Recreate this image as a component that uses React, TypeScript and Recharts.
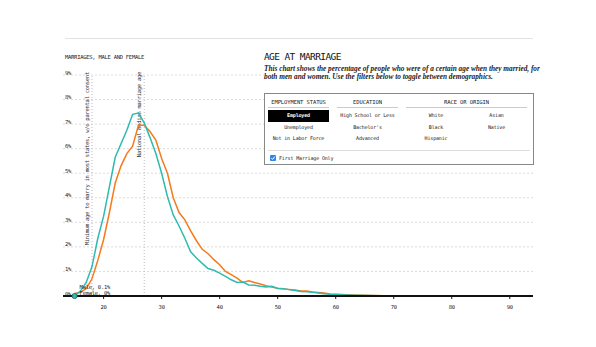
import React from 'react';
import {
    LineChart,
    Line,
    XAxis,
    YAxis,
    CartesianGrid,
    ReferenceLine,
} from 'recharts';

// ages and share of marriages (%) at each age
const AGES = [
    15, 16, 17, 18, 19, 20, 21, 22, 23, 24, 25, 26, 27, 28, 29, 30, 31, 32, 33, 34,
    35, 36, 37, 38, 39, 40, 41, 42, 43, 44, 45, 46, 47, 48, 49, 50, 51, 52, 53, 54,
    55, 56, 57, 58, 59, 60, 61, 62, 63, 64, 65, 66, 67, 68, 69, 70, 72, 75, 80,
];
const FEMALE = [
    0, 0.2, 0.55, 1.2, 2.35, 3.25, 4.45, 5.65, 6.2, 6.75, 7.4, 7.45, 7.05, 6.45, 5.8, 5.0, 4.05, 3.3, 2.85, 2.35,
    1.8, 1.55, 1.33, 1.12, 1.05, 0.93, 0.8, 0.66, 0.55, 0.57, 0.45, 0.44, 0.4, 0.37, 0.4, 0.31, 0.3, 0.26, 0.22, 0.18,
    0.17, 0.15, 0.12, 0.09, 0.07, 0.06, 0.05, 0.04, 0.03, 0.03, 0.02, 0.02, 0.01, 0.01, 0.01, 0.01, 0, 0, 0,
];
const MALE = [
    0.1, 0.15, 0.3, 0.7, 1.45, 2.3, 3.4, 4.6, 5.3, 5.8, 6.1, 6.95, 6.95, 6.7, 6.35, 5.6, 5.0, 4.0, 3.4, 3.1,
    2.65, 2.25, 1.9, 1.72, 1.48, 1.27, 1.0, 0.87, 0.73, 0.55, 0.62, 0.55, 0.49, 0.42, 0.37, 0.32, 0.3, 0.26, 0.24, 0.2,
    0.2, 0.16, 0.14, 0.12, 0.08, 0.07, 0.06, 0.05, 0.04, 0.03, 0.03, 0.02, 0.02, 0.01, 0.01, 0.01, 0, 0, 0,
];
const X_TICKS = [20, 30, 40, 50, 60, 70, 80, 90];
const Y_TICKS = [0, 1, 2, 3, 4, 5, 6, 7, 8, 9];

const MIN_AGE = 18;
const MEDIAN_AGE = 27;

const EMPLOYMENT = ['Employed', 'Unemployed', 'Not in Labor Force'];
const EDUCATION = ['High School or Less', "Bachelor's", 'Advanced'];
const RACE_LEFT = ['White', 'Black', 'Hispanic'];
const RACE_RIGHT = ['Asian', 'Native'];

const MONO = '"DejaVu Sans Mono", monospace';
const TEAL = '#2fbab1';
const ORANGE = '#f57a1c';

const data = AGES.map((age, i) => ({ age, female: FEMALE[i], male: MALE[i] }));

const small = { fontFamily: MONO, fontSize: 5.5, letterSpacing: -0.27, fill: '#222' };

const YTick = (props: any) => {
    const { y, payload } = props;
    return (
        <text x={65} y={y - 0.5} {...small} textAnchor="start">
            {payload.value}%
        </text>
    );
};

const XTick = (props: any) => {
    const { x, y, payload } = props;
    return (
        <text x={x} y={y + 8} {...small} textAnchor="middle">
            {payload.value}
        </text>
    );
};

const RefLabel = (text: string) => (props: any) => {
    const vb = props.viewBox || {};
    const x = vb.x - 3.5;
    const y = vb.y - 3;
    return (
        <text
            x={x}
            y={y}
            transform={`rotate(-90 ${x} ${y})`}
            textAnchor="end"
            {...small}
            fill="#333"
        >
            {text}
        </text>
    );
};

const FemaleDot = (props: any) => {
    const { cx, cy, index } = props;
    if (index !== 0) return <g key={`f-${index}`} />;
    return (
        <g key={`f-${index}`}>
            <circle cx={cx} cy={cy} r={2.6} fill={TEAL} stroke="#1f5f5b" strokeWidth={0.8} />
            <text x={cx + 5} y={cy - 1} {...small}>Female, 0%</text>
        </g>
    );
};

const MaleDot = (props: any) => {
    const { cx, cy, index } = props;
    if (index !== 0) return <g key={`m-${index}`} />;
    return (
        <g key={`m-${index}`}>
            <text x={cx + 5} y={cy - 5} {...small}>Male, 0.1%</text>
        </g>
    );
};

const colText: React.CSSProperties = {
    fontFamily: MONO,
    fontSize: 5,
    letterSpacing: -0.15,
    color: '#222',
    textAlign: 'center',
    height: 11.7,
    lineHeight: '11.7px',
    whiteSpace: 'nowrap',
};

const header: React.CSSProperties = {
    fontFamily: MONO,
    fontSize: 5.5,
    letterSpacing: -0.1,
    color: '#222',
    textAlign: 'center',
    borderBottom: '1px solid #ccc',
    paddingBottom: 2,
    marginBottom: 2,
    whiteSpace: 'nowrap',
};

const Panel = () => (
    <div style={{ position: 'absolute', left: 264, top: 50, width: 272, background: 'white' }}>
        <div style={{ fontFamily: MONO, fontSize: 9.5, letterSpacing: -0.6, color: '#111', lineHeight: '13px' }}>
            AGE AT MARRIAGE
        </div>
        <div
            style={{
                fontFamily: '"Liberation Serif", serif',
                fontStyle: 'italic',
                fontWeight: 'bold',
                fontSize: 7.3,
                lineHeight: '8.3px',
                color: '#222',
                marginTop: 2,
                width: 290,
            }}
        >
            This chart shows the percentage of people who were of a certain age when they married, for
            <br />
            both men and women. Use the filters below to toggle between demographics.
        </div>
        <div
            style={{
                position: 'absolute',
                top: 43,
                left: 0,
                width: 268,
                height: 70,
                border: '1px solid #888',
                background: 'white',
            }}
        >
            <div style={{ position: 'absolute', left: 3, top: 5, width: 61 }}>
                <div style={header}>EMPLOYMENT STATUS</div>
                {EMPLOYMENT.map((t, i) => (
                    <div
                        key={t}
                        style={{
                            ...colText,
                            background: i === 0 ? '#000' : 'transparent',
                            color: i === 0 ? '#fff' : '#222',
                            fontWeight: i === 0 ? 'bold' : 'normal',
                        }}
                    >
                        {t}
                    </div>
                ))}
            </div>
            <div style={{ position: 'absolute', left: 72, top: 5, width: 61 }}>
                <div style={header}>EDUCATION</div>
                {EDUCATION.map((t) => (
                    <div key={t} style={colText}>{t}</div>
                ))}
            </div>
            <div style={{ position: 'absolute', left: 141, top: 5, width: 121 }}>
                <div style={header}>RACE OR ORIGIN</div>
                <div style={{ display: 'flex' }}>
                    <div style={{ width: 60 }}>
                        {RACE_LEFT.map((t) => (
                            <div key={t} style={colText}>{t}</div>
                        ))}
                    </div>
                    <div style={{ width: 61 }}>
                        {RACE_RIGHT.map((t) => (
                            <div key={t} style={colText}>{t}</div>
                        ))}
                    </div>
                </div>
            </div>
            <div style={{ position: 'absolute', left: 3, right: 3, top: 56, borderTop: '1px solid #ddd' }} />
            <div style={{ position: 'absolute', left: 5, top: 61, display: 'flex', alignItems: 'center' }}>
                <svg width={6} height={6} style={{ display: 'block' }}>
                    <rect x={0} y={0} width={6} height={6} rx={1} fill="#2f86e6" />
                    <path d="M1.3 3.1 L2.6 4.4 L4.8 1.6" stroke="white" strokeWidth={1} fill="none" />
                </svg>
                <span style={{ fontFamily: MONO, fontSize: 5, letterSpacing: -0.15, color: '#222', marginLeft: 3 }}>
                    First Marriage Only
                </span>
            </div>
        </div>
    </div>
);

const App: React.FC = () => {
    return (
        <div style={{ position: 'absolute', left: 0, top: 0, width: 596, height: 347, background: 'white', overflow: 'hidden' }}>
            <div style={{ position: 'absolute', left: 65, top: 38, width: 468, borderTop: '1px solid #e2e2e2' }} />
            <div
                style={{
                    position: 'absolute',
                    left: 65,
                    top: 54,
                    fontFamily: MONO,
                    fontSize: 5.5,
                    letterSpacing: -0.27,
                    color: '#222',
                }}
            >
                MARRIAGES, MALE AND FEMALE
            </div>
            <LineChart
                width={596}
                height={347}
                data={data}
                margin={{ top: 75, right: 63, bottom: 0, left: 61 }}
                style={{ position: 'absolute', left: 0, top: 0 }}
            >
                <CartesianGrid vertical={false} stroke="#dcdcdc" strokeDasharray="2 2" />
                <XAxis
                    dataKey="age"
                    type="number"
                    domain={[13, 94]}
                    ticks={X_TICKS}
                    interval={0}
                    axisLine={{ stroke: '#111', strokeWidth: 2 }}
                    tickLine={{ stroke: '#111' }}
                    tickSize={3}
                    tick={<XTick />}
                    height={51}
                />
                <YAxis
                    type="number"
                    domain={[0, 9]}
                    ticks={Y_TICKS}
                    interval={0}
                    axisLine={false}
                    tickLine={false}
                    tick={<YTick />}
                    width={2}
                />
                <ReferenceLine
                    x={MIN_AGE}
                    stroke="#bbb"
                    strokeDasharray="1 2"
                    label={RefLabel('Minimum age to marry in most states, w/o parental consent')}
                />
                <ReferenceLine
                    x={MEDIAN_AGE}
                    stroke="#bbb"
                    strokeDasharray="1 2"
                    label={RefLabel('National median marriage age')}
                />
                <Line
                    type="linear"
                    dataKey="male"
                    stroke={ORANGE}
                    strokeWidth={1.5}
                    dot={MaleDot}
                    activeDot={false}
                    isAnimationActive={false}
                />
                <Line
                    type="linear"
                    dataKey="female"
                    stroke={TEAL}
                    strokeWidth={1.5}
                    dot={FemaleDot}
                    activeDot={false}
                    isAnimationActive={false}
                />
            </LineChart>
            <Panel />
        </div>
    );
};

export default App;
